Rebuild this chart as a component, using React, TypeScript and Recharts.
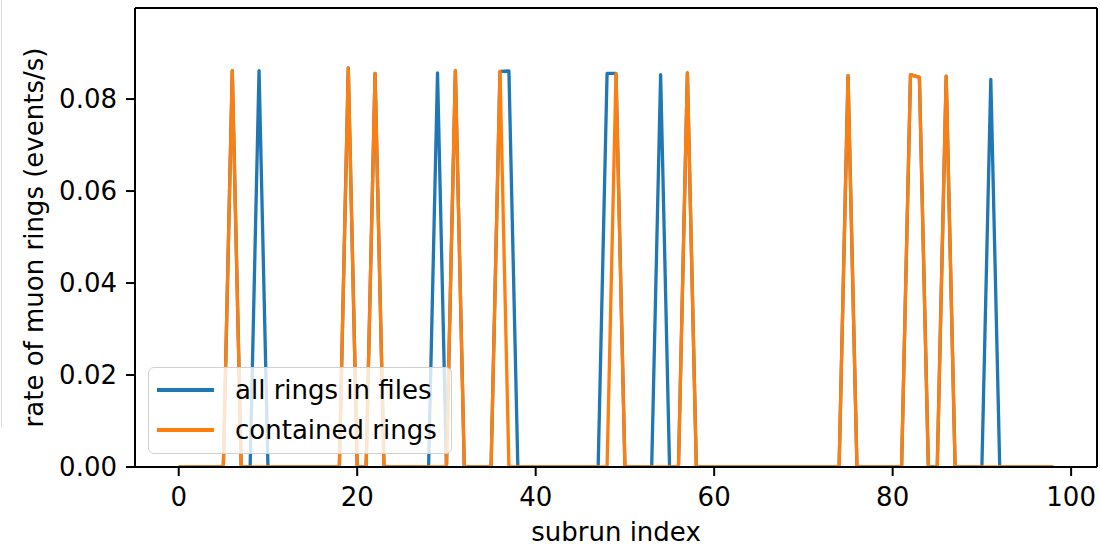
import React from 'react';
import { LineChart, Line, XAxis, YAxis, Label, Legend, ReferenceLine } from 'recharts';

// subrun index 0..98
const subrunIndex = [
  0, 1, 2, 3, 4, 5, 6, 7, 8, 9,
  10, 11, 12, 13, 14, 15, 16, 17, 18, 19,
  20, 21, 22, 23, 24, 25, 26, 27, 28, 29,
  30, 31, 32, 33, 34, 35, 36, 37, 38, 39,
  40, 41, 42, 43, 44, 45, 46, 47, 48, 49,
  50, 51, 52, 53, 54, 55, 56, 57, 58, 59,
  60, 61, 62, 63, 64, 65, 66, 67, 68, 69,
  70, 71, 72, 73, 74, 75, 76, 77, 78, 79,
  80, 81, 82, 83, 84, 85, 86, 87, 88, 89,
  90, 91, 92, 93, 94, 95, 96, 97, 98,
];

const allRings = [
  0, 0, 0, 0, 0, 0, 0.0862, 0, 0, 0.0862,
  0, 0, 0, 0, 0, 0, 0, 0, 0, 0.0868,
  0, 0, 0.0856, 0, 0, 0, 0, 0, 0, 0.0857,
  0, 0.0862, 0, 0, 0, 0, 0.086, 0.0861, 0, 0,
  0, 0, 0, 0, 0, 0, 0, 0, 0.0856, 0.0856,
  0, 0, 0, 0, 0.0853, 0, 0, 0.0857, 0, 0,
  0, 0, 0, 0, 0, 0, 0, 0, 0, 0,
  0, 0, 0, 0, 0, 0.0851, 0, 0, 0, 0,
  0, 0, 0.0853, 0.0847, 0, 0, 0.085, 0, 0, 0,
  0, 0.0843, 0, 0, 0, 0, 0, 0, 0,
];

const containedRings = [
  0, 0, 0, 0, 0, 0, 0.0862, 0, 0, 0,
  0, 0, 0, 0, 0, 0, 0, 0, 0, 0.0868,
  0, 0, 0.0856, 0, 0, 0, 0, 0, 0, 0,
  0, 0.0862, 0, 0, 0, 0, 0.086, 0, 0, 0,
  0, 0, 0, 0, 0, 0, 0, 0, 0, 0.0855,
  0, 0, 0, 0, 0, 0, 0, 0.0857, 0, 0,
  0, 0, 0, 0, 0, 0, 0, 0, 0, 0,
  0, 0, 0, 0, 0, 0.0851, 0, 0, 0, 0,
  0, 0, 0.0853, 0.0847, 0, 0, 0.085, 0, 0, 0,
  0, 0, 0, 0, 0, 0, 0, 0, 0,
];

const xTicks = [0, 20, 40, 60, 80, 100];
const yTicks = [0, 0.02, 0.04, 0.06, 0.08];

const data = subrunIndex.map((x, i) => ({
  x,
  all: allRings[i],
  contained: containedRings[i],
}));

const X_DOMAIN: [number, number] = [-4.9, 102.9];
const Y_DOMAIN: [number, number] = [0, 0.0998];

const FONT = '"DejaVu Sans", sans-serif';
const BLUE = '#1f77b4';
const ORANGE = '#ff7f0e';
const TICK_FONT = 26;

const MplLegend = () => (
  <div
    style={{
      position: 'absolute',
      left: 148,
      top: 367,
      width: 304,
      height: 87,
      background: 'rgba(255,255,255,0.8)',
      border: '1.5px solid #d0d0d0',
      borderRadius: 6,
      fontFamily: FONT,
      fontSize: 26,
      color: '#000',
      boxSizing: 'border-box',
    }}
  >
    {[
      { label: 'all rings in files', color: BLUE },
      { label: 'contained rings', color: ORANGE },
    ].map((e, i) => (
      <div
        key={e.label}
        style={{ position: 'absolute', left: 8, top: 5 + i * 40, height: 34, display: 'flex', alignItems: 'center' }}
      >
        <div style={{ width: 57, height: 3.5, background: e.color, marginRight: 21 }} />
        <span style={{ whiteSpace: 'nowrap' }}>{e.label}</span>
      </div>
    ))}
  </div>
);

export default function App() {
  return (
    <div style={{ position: 'absolute', left: 0, top: 0, width: 1100, height: 548, background: '#fff' }}>
      <div style={{ position: 'absolute', left: 1, top: 0, width: 1, height: 427, background: '#dcdcdc' }} />
      <LineChart width={1100} height={548} data={data} margin={{ top: 8, right: 3, bottom: 0, left: 0 }}>
        <XAxis
          dataKey="x"
          type="number"
          domain={X_DOMAIN}
          ticks={xTicks}
          allowDataOverflow
          height={81}
          tickSize={9}
          tickMargin={12}
          stroke="#000"
          strokeWidth={2}
          tick={{ fill: '#000', fontSize: TICK_FONT, fontFamily: FONT }}
          tickLine={{ stroke: '#000', strokeWidth: 2 }}
        >
          <Label
            value="subrun index"
            position="insideBottom"
            offset={7}
            style={{ fill: '#000', fontSize: TICK_FONT, fontFamily: FONT }}
          />
        </XAxis>
        <YAxis
          type="number"
          domain={Y_DOMAIN}
          ticks={yTicks}
          allowDataOverflow
          width={135}
          tickSize={9}
          tickMargin={9}
          tickFormatter={(v: number) => v.toFixed(2)}
          stroke="#000"
          strokeWidth={2}
          tick={{ fill: '#000', fontSize: TICK_FONT, fontFamily: FONT }}
          tickLine={{ stroke: '#000', strokeWidth: 2 }}
        >
          <Label
            value="rate of muon rings (events/s)"
            angle={-90}
            position="insideLeft"
            offset={34}
            style={{ fill: '#000', fontSize: TICK_FONT, fontFamily: FONT, textAnchor: 'middle' }}
          />
        </YAxis>
        <ReferenceLine y={Y_DOMAIN[1]} stroke="#000" strokeWidth={2} ifOverflow="visible" />
        <ReferenceLine x={X_DOMAIN[1]} stroke="#000" strokeWidth={2} ifOverflow="visible" />
        <Line
          dataKey="all"
          type="linear"
          stroke={BLUE}
          strokeWidth={3.3}
          strokeLinejoin="round"
          dot={false}
          isAnimationActive={false}
        />
        <Line
          dataKey="contained"
          type="linear"
          stroke={ORANGE}
          strokeWidth={3.3}
          strokeLinejoin="round"
          dot={false}
          isAnimationActive={false}
        />
        <Legend content={() => <MplLegend />} wrapperStyle={{ position: 'absolute', left: 0, top: 0, width: 0, height: 0 }} />
      </LineChart>
    </div>
  );
}
